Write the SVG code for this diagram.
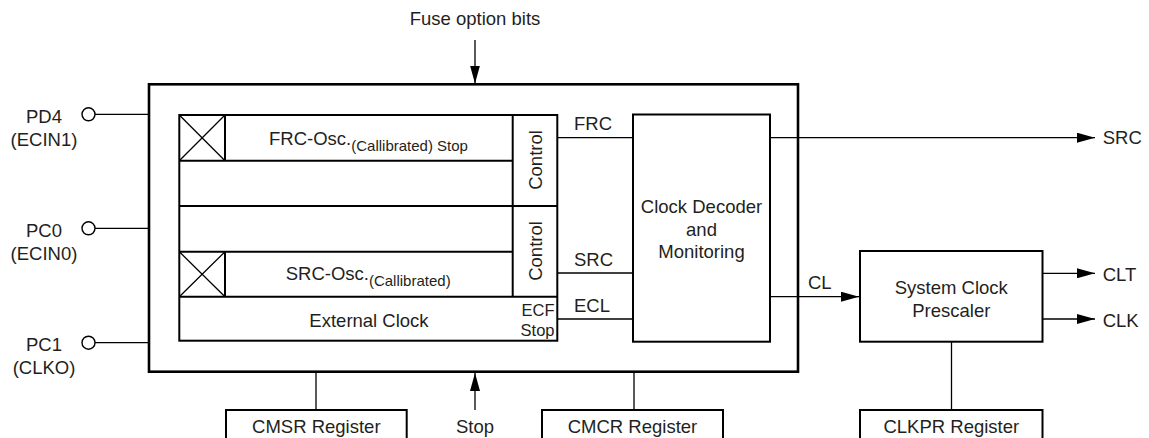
<svg xmlns="http://www.w3.org/2000/svg" width="1149" height="438" viewBox="0 0 1149 438">
<style>
  .t { font-family: "Liberation Sans", Arial, Helvetica, sans-serif; font-size: 18.5px; fill: #231f20; }
  .s { font-size: 15px; }
  .e { font-size: 16.5px; }
  .m { text-anchor: middle; }
  .box { fill: none; stroke: #000; stroke-width: 2; }
  .outer { fill: none; stroke: #000; stroke-width: 2.6; }
  .ln { fill: none; stroke: #000; stroke-width: 1.3; }
  .pin { fill: #fff; stroke: #000; stroke-width: 1.4; }
</style>
<defs>
  <marker id="arr" viewBox="0 0 18 10" refX="18" refY="5" markerWidth="18" markerHeight="10" markerUnits="userSpaceOnUse" orient="auto">
    <path d="M0,0 L18,5 L0,10 z" fill="#000"/>
  </marker>
</defs>

<rect width="1149" height="438" fill="#fff"/>

<g id="connectors">
  <line class="ln" x1="475" y1="40" x2="475" y2="83.5" marker-end="url(#arr)"/>
  <line class="ln" x1="475" y1="410" x2="475" y2="373" marker-end="url(#arr)"/>
  <line class="ln" x1="95" y1="114.3" x2="149" y2="114.3"/>
  <line class="ln" x1="95" y1="228.3" x2="149" y2="228.3"/>
  <line class="ln" x1="95" y1="342.7" x2="149" y2="342.7"/>
  <line class="ln" x1="557" y1="137.7" x2="633" y2="137.7"/>
  <line class="ln" x1="557" y1="273" x2="633" y2="273"/>
  <line class="ln" x1="557" y1="319" x2="633" y2="319"/>
  <line class="ln" x1="770" y1="137.7" x2="1095" y2="137.7" marker-end="url(#arr)"/>
  <line class="ln" x1="770" y1="296.7" x2="859" y2="296.7" marker-end="url(#arr)"/>
  <line class="ln" x1="1042.5" y1="273.3" x2="1095" y2="273.3" marker-end="url(#arr)"/>
  <line class="ln" x1="1042.5" y1="319" x2="1095" y2="319" marker-end="url(#arr)"/>
  <line class="ln" x1="316" y1="372" x2="316" y2="410"/>
  <line class="ln" x1="634" y1="372" x2="634" y2="410"/>
  <line class="ln" x1="951.5" y1="341.7" x2="951.5" y2="410"/>
</g>

<g id="fuse-label">
  <text class="t m" x="475" y="25">Fuse option bits</text>
</g>

<g id="pin-pd4">
  <circle class="pin" cx="88.5" cy="114.3" r="6.5"/>
  <text class="t m" x="44" y="123.3">PD4</text>
  <text class="t m" x="44" y="146">(ECIN1)</text>
</g>
<g id="pin-pc0">
  <circle class="pin" cx="88.5" cy="228.3" r="6.5"/>
  <text class="t m" x="44" y="237">PC0</text>
  <text class="t m" x="44" y="259.5">(ECIN0)</text>
</g>
<g id="pin-pc1">
  <circle class="pin" cx="88.5" cy="342.7" r="6.5"/>
  <text class="t m" x="44" y="351">PC1</text>
  <text class="t m" x="44" y="373.5">(CLKO)</text>
</g>

<g id="clock-module">
  <rect class="outer" x="149" y="84.3" width="649" height="287.4"/>
</g>

<g id="oscillators">
  <rect class="box" x="179.3" y="115" width="378" height="225.7"/>
  <line class="box" x1="179.3" y1="160.7" x2="512.7" y2="160.7"/>
  <line class="box" x1="179.3" y1="206" x2="557.3" y2="206"/>
  <line class="box" x1="179.3" y1="251.7" x2="512.7" y2="251.7"/>
  <line class="box" x1="179.3" y1="296.7" x2="557.3" y2="296.7"/>
  <line class="box" x1="512.7" y1="115" x2="512.7" y2="296.7"/>
  <line class="box" x1="225" y1="115" x2="225" y2="160.7"/>
  <line class="box" x1="225" y1="251.7" x2="225" y2="296.7"/>
  <path class="ln" d="M179.3,115 L225,160.7 M225,115 L179.3,160.7"/>
  <path class="ln" d="M179.3,251.7 L225,296.7 M225,251.7 L179.3,296.7"/>
  <text class="t" x="269" y="145">FRC-Osc.<tspan class="s" dy="5.7">(Callibrated) Stop</tspan></text>
  <text class="t" x="285.7" y="280">SRC-Osc.<tspan class="s" dy="5.5">(Callibrated)</tspan></text>
  <text class="t m" x="369" y="326.7">External Clock</text>
  <text class="t m" transform="translate(535.8,160) rotate(-90)" x="0" y="6.6">Control</text>
  <text class="t m" transform="translate(535.8,251) rotate(-90)" x="0" y="6.6">Control</text>
  <text class="t e" x="554.5" y="315.5" text-anchor="end">ECF</text>
  <text class="t e" x="554.5" y="335.5" text-anchor="end">Stop</text>
</g>

<g id="signal-labels">
  <text class="t" x="574" y="130">FRC</text>
  <text class="t" x="574" y="265.7">SRC</text>
  <text class="t" x="574" y="311.7">ECL</text>
  <text class="t" x="808" y="289">CL</text>
  <text class="t" x="1102.7" y="144.3">SRC</text>
  <text class="t" x="1102.7" y="281">CLT</text>
  <text class="t" x="1102.7" y="326.7">CLK</text>
  <text class="t m" x="475" y="433">Stop</text>
</g>

<g id="clock-decoder">
  <rect class="box" x="633" y="114.5" width="137" height="227.2"/>
  <text class="t m" x="701.5" y="213.3">Clock Decoder</text>
  <text class="t m" x="701.5" y="235.7">and</text>
  <text class="t m" x="701.5" y="258">Monitoring</text>
</g>

<g id="prescaler">
  <rect class="box" x="860" y="251" width="182.5" height="90.7"/>
  <text class="t m" x="951.3" y="294.3">System Clock</text>
  <text class="t m" x="951.3" y="316.7">Prescaler</text>
</g>

<g id="cmsr">
  <rect class="box" x="226" y="410" width="180.7" height="40"/>
  <text class="t m" x="316.3" y="433">CMSR Register</text>
</g>
<g id="cmcr">
  <rect class="box" x="542" y="410" width="181" height="40"/>
  <text class="t m" x="632.5" y="433">CMCR Register</text>
</g>
<g id="clkpr">
  <rect class="box" x="860" y="410" width="182.5" height="40"/>
  <text class="t m" x="951.3" y="433">CLKPR Register</text>
</g>
</svg>
